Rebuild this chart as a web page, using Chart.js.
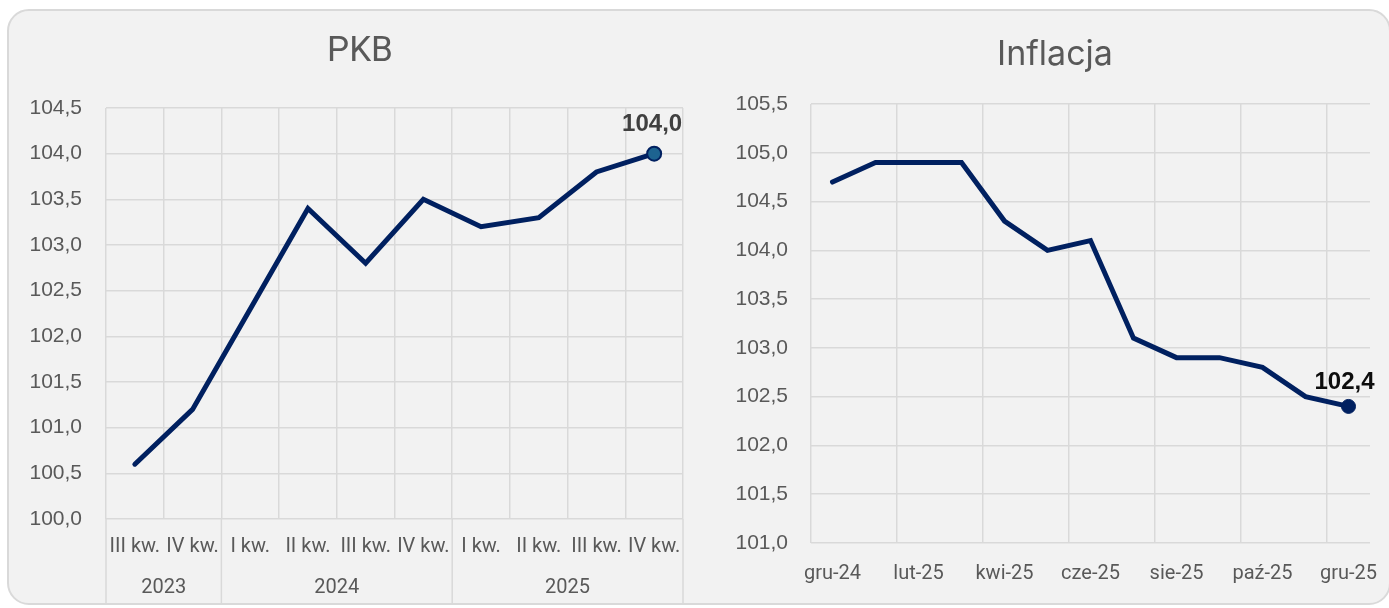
<!DOCTYPE html>
<html lang="pl">
<head>
<meta charset="utf-8">
<script src="https://cdn.jsdelivr.net/npm/chart.js@4/dist/chart.umd.min.js"></script>
<style>
  html, body { margin: 0; padding: 0; background: #ffffff; width: 1389px; height: 608px; overflow: hidden; }
  #card { position: absolute; left: 7px; top: 9px; width: 1384px; height: 596px;
          background: #f2f2f2; border: 2px solid #d9d9d9; border-radius: 22px; box-sizing: border-box; }
  canvas { position: absolute; }
  #pkb { left: 7px; top: 9px; }
  #infl { left: 715px; top: 9px; }
</style>
</head>
<body>
<div id="card"></div>
<canvas id="pkb" width="706" height="596"></canvas>
<canvas id="infl" width="674" height="596"></canvas>
<script>
// ---- data ----
const quarterLabels = ['III kw.', 'IV kw.', 'I kw.', 'II kw.', 'III kw.', 'IV kw.', 'I kw.', 'II kw.', 'III kw.', 'IV kw.'];
const quarterYears  = ['2023', '2023', '2024', '2024', '2024', '2024', '2025', '2025', '2025', '2025'];
const pkbValues     = [100.6, 101.2, 102.3, 103.4, 102.8, 103.5, 103.2, 103.3, 103.8, 104.0];
const pkbAxisMin = 100.0, pkbAxisMax = 104.5, pkbAxisStep = 0.5;

const monthLabels = ['gru-24', 'sty-25', 'lut-25', 'mar-25', 'kwi-25', 'maj-25', 'cze-25', 'lip-25', 'sie-25', 'wrz-25', 'paź-25', 'lis-25', 'gru-25'];
const inflValues  = [104.7, 104.9, 104.9, 104.9, 104.3, 104.0, 104.1, 103.1, 102.9, 102.9, 102.8, 102.5, 102.4];
const inflAxisMin = 101.0, inflAxisMax = 105.5, inflAxisStep = 0.5;

// ---- styles ----
const NAVY = '#002060';
const GRID = '#d9d9d9';
const TEXT = '#595959';
const fmt = v => Number(v).toFixed(1).replace('.', ',');

// value label above the last point
const lastLabelPlugin = {
  id: 'lastLabel',
  afterDatasetsDraw(chart, args, opts) {
    const meta = chart.getDatasetMeta(0);
    const ds = chart.data.datasets[0].data;
    const i = ds.length - 1;
    const pt = meta.data[i];
    const ctx = chart.ctx;
    ctx.save();
    ctx.font = opts.font;
    ctx.fillStyle = opts.color;
    ctx.textAlign = 'center';
    ctx.textBaseline = 'middle';
    ctx.fillText(fmt(ds[i]), pt.x + opts.dx, pt.y + opts.dy);
    ctx.restore();
  }
};

// shift the title box horizontally (title centred over plot+axis like the original)
const titleShiftPlugin = {
  id: 'titleShift',
  afterLayout(chart, args, opts) {
    const t = chart.titleBlock;
    if (t && opts.left) { t.left += opts.left; }
  }
};

// second-level (year) category labels + group separators
const yearGroupsPlugin = {
  id: 'yearGroups',
  afterDraw(chart, args, opts) {
    const groups = opts.groups;
    if (!groups) return;
    const x = chart.scales.x;
    const n = groups.length;
    const half = (x.getPixelForValue(1) - x.getPixelForValue(0)) / 2;
    const ctx = chart.ctx;
    const top = chart.chartArea.bottom;
    ctx.save();
    ctx.strokeStyle = GRID;
    ctx.lineWidth = 1.5;
    ctx.font = opts.font;
    ctx.fillStyle = TEXT;
    ctx.textAlign = 'center';
    ctx.textBaseline = 'middle';
    let start = 0;
    for (let i = 1; i <= n; i++) {
      if (i === n || groups[i] !== groups[start]) {
        const x0 = x.getPixelForValue(start) - half;
        const x1 = x.getPixelForValue(i - 1) + half;
        ctx.beginPath();
        ctx.moveTo(x0, top); ctx.lineTo(x0, opts.lineBottom);
        ctx.stroke();
        if (i === n) {
          ctx.beginPath();
          ctx.moveTo(x1, top); ctx.lineTo(x1, opts.lineBottom);
          ctx.stroke();
        }
        ctx.fillText(groups[start], (x0 + x1) / 2, opts.textY);
        start = i;
      }
    }
    ctx.restore();
  }
};

Chart.register(lastLabelPlugin, yearGroupsPlugin, titleShiftPlugin);

function lastOnly(val) {
  return ctx => (ctx.dataIndex === ctx.dataset.data.length - 1 ? val : 0);
}
function fixX(h) {
  return s => { s.height = h; s.paddingLeft = 0; s.paddingRight = 0; };
}

// ---- PKB ----
new Chart(document.getElementById('pkb'), {
  type: 'line',
  data: {
    labels: quarterLabels,
    datasets: [{
      data: pkbValues,
      borderColor: NAVY,
      borderWidth: 5,
      borderCapStyle: 'round',
      borderJoinStyle: 'miter',
      tension: 0,
      pointRadius: lastOnly(7),
      pointHoverRadius: lastOnly(7),
      pointBackgroundColor: '#1d6390',
      pointBorderColor: NAVY,
      pointBorderWidth: 2
    }]
  },
  options: {
    responsive: false,
    animation: false,
    events: [],
    layout: { padding: { left: 0, right: 30, top: 0, bottom: 0 } },
    plugins: {
      legend: { display: false },
      tooltip: { enabled: false },
      title: {
        display: true, text: 'PKB', color: TEXT,
        font: { family: 'Roboto', size: 35, weight: 'normal', lineHeight: 1.2 },
        padding: { top: 22, bottom: 35 }
      },
      titleShift: { left: 30 },
      lastLabel: { font: 'bold 24px "Liberation Sans", Arial, sans-serif', color: '#404040', dx: -2, dy: -29 },
      yearGroups: { groups: quarterYears, font: '20px Roboto', textY: 579, lineBottom: 594 }
    },
    scales: {
      x: {
        type: 'category',
        offset: true,
        afterFit: fixX(86),
        grid: { offset: true, color: GRID, lineWidth: 1.5, drawTicks: false },
        border: { display: false },
        ticks: { color: TEXT, font: { family: 'Roboto', size: 20 }, padding: 16, autoSkip: false, maxRotation: 0 }
      },
      y: {
        min: pkbAxisMin, max: pkbAxisMax,
        afterFit: s => { s.width = 99; },
        grid: { color: GRID, lineWidth: 1.5, drawTicks: false },
        border: { display: false },
        ticks: { stepSize: pkbAxisStep, color: TEXT, padding: 24,
                 font: { family: '"Liberation Sans", Arial, sans-serif', size: 21 },
                 callback: v => fmt(v) }
      }
    }
  }
});

// ---- Inflacja ----
new Chart(document.getElementById('infl'), {
  type: 'line',
  data: {
    labels: monthLabels,
    datasets: [{
      data: inflValues,
      borderColor: NAVY,
      borderWidth: 5,
      borderCapStyle: 'round',
      borderJoinStyle: 'miter',
      tension: 0,
      pointRadius: lastOnly(7),
      pointHoverRadius: lastOnly(7),
      pointBackgroundColor: NAVY,
      pointBorderColor: NAVY,
      pointBorderWidth: 1
    }]
  },
  options: {
    responsive: false,
    animation: false,
    events: [],
    layout: { padding: { left: 0, right: 19, top: 0, bottom: 0 } },
    plugins: {
      legend: { display: false },
      tooltip: { enabled: false },
      title: {
        display: true, text: 'Inflacja', color: TEXT,
        font: { family: 'Inter', size: 34, weight: 'normal', lineHeight: 1.2 },
        padding: { top: 25.6, bottom: 28.6 }
      },
      titleShift: { left: 25 },
      lastLabel: { font: 'bold 24px "Liberation Sans", Arial, sans-serif', color: '#0d0d0d', dx: -4, dy: -24 }
    },
    scales: {
      x: {
        type: 'category',
        offset: true,
        afterFit: fixX(62),
        grid: {
          offset: true, lineWidth: 1.5, drawTicks: false,
          color: ctx => (ctx.tick !== undefined && ctx.index % 2 === 0 ? GRID : 'rgba(0,0,0,0)')
        },
        border: { display: false },
        ticks: { color: TEXT, font: { family: 'Roboto', size: 20 }, padding: 19, autoSkip: false, maxRotation: 0,
                 callback: (v, i) => (i % 2 === 0 ? monthLabels[i] : '') }
      },
      y: {
        min: inflAxisMin, max: inflAxisMax,
        afterFit: s => { s.width = 96; },
        grid: { color: GRID, lineWidth: 1.5, drawTicks: false },
        border: { display: false },
        ticks: { stepSize: inflAxisStep, color: TEXT, padding: 23,
                 font: { family: '"Liberation Sans", Arial, sans-serif', size: 21 },
                 callback: v => fmt(v) }
      }
    }
  }
});
</script>
</body>
</html>
